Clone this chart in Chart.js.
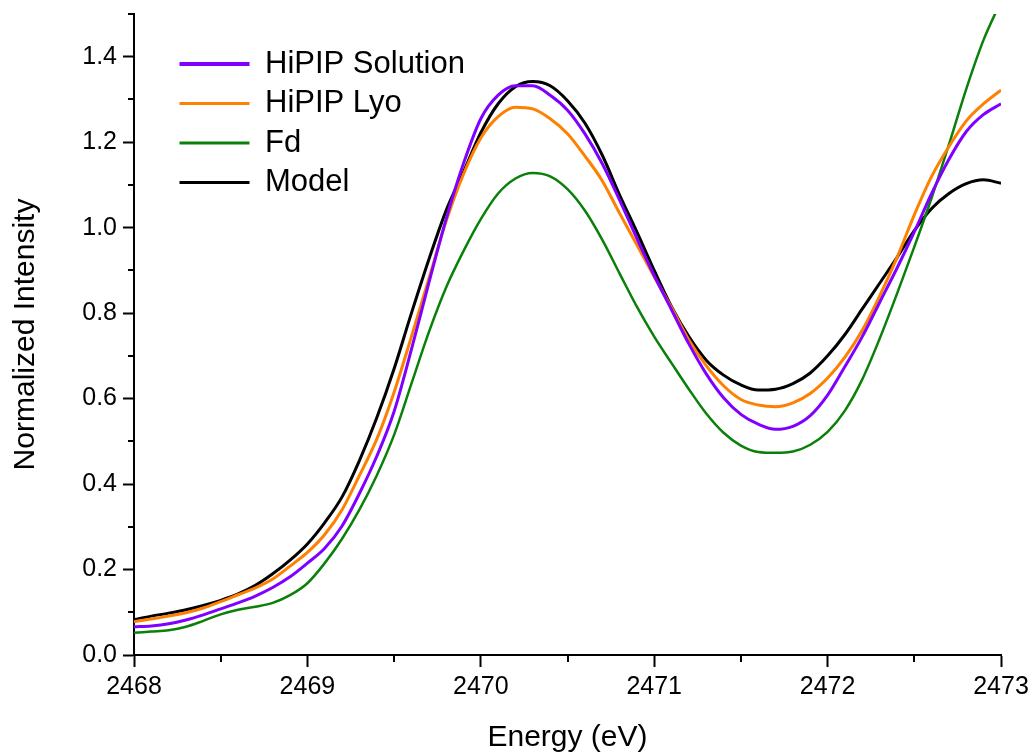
<!DOCTYPE html>
<html>
<head>
<meta charset="utf-8">
<title>S K-edge XAS</title>
<script src="https://cdn.jsdelivr.net/npm/chart.js@4.4.1/dist/chart.umd.min.js"></script>
<style>
  body { margin: 0; background: #fff; }
  canvas { display: block; }
</style>
</head>
<body>
<canvas id="xasChart" width="1032" height="754"></canvas>
<script>
const FONT = '"Liberation Sans", Arial, sans-serif';

// Energy grid (eV)
const energy = [
    2468.0, 2468.1, 2468.2, 2468.3, 2468.4, 2468.5, 2468.6, 2468.7, 2468.8, 2468.9,
    2469.0, 2469.1, 2469.2, 2469.3, 2469.4, 2469.5, 2469.6, 2469.7, 2469.8, 2469.9,
    2470.0, 2470.1, 2470.2, 2470.3, 2470.4, 2470.5, 2470.6, 2470.7, 2470.8, 2470.9,
    2471.0, 2471.1, 2471.2, 2471.3, 2471.4, 2471.5, 2471.6, 2471.7, 2471.8, 2471.9,
    2472.0, 2472.1, 2472.2, 2472.3, 2472.4, 2472.5, 2472.6, 2472.7, 2472.8, 2472.9,
    2473.0
];

const hipipSolution = [
    0.066, 0.068, 0.073, 0.082, 0.094, 0.108, 0.122, 0.138, 0.158, 0.183,
    0.215, 0.250, 0.302, 0.378, 0.465, 0.570, 0.715, 0.870, 1.020, 1.150,
    1.255, 1.310, 1.332, 1.332, 1.310, 1.275, 1.220, 1.150, 1.065, 0.975,
    0.888, 0.808, 0.728, 0.658, 0.602, 0.563, 0.540, 0.528, 0.535, 0.560,
    0.608, 0.675, 0.745, 0.825, 0.905, 0.990, 1.080, 1.160, 1.225, 1.265,
    1.290
];

const hipipLyo = [
    0.078, 0.084, 0.091, 0.099, 0.110, 0.125, 0.141, 0.157, 0.178, 0.208,
    0.240, 0.282, 0.340, 0.420, 0.505, 0.615, 0.745, 0.880, 1.015, 1.125,
    1.210, 1.260, 1.282, 1.278, 1.255, 1.220, 1.168, 1.110, 1.034, 0.960,
    0.885, 0.813, 0.737, 0.677, 0.630, 0.598, 0.585, 0.581, 0.590, 0.612,
    0.648, 0.697, 0.760, 0.840, 0.930, 1.030, 1.120, 1.190, 1.250, 1.290,
    1.322
];

const fd = [
    0.052, 0.055, 0.058, 0.066, 0.080, 0.095, 0.106, 0.113, 0.122, 0.140,
    0.168, 0.215, 0.272, 0.340, 0.420, 0.515, 0.635, 0.755, 0.860, 0.945,
    1.020, 1.080, 1.115, 1.128, 1.120, 1.090, 1.040, 0.972, 0.893, 0.815,
    0.745, 0.683, 0.622, 0.565, 0.520, 0.490, 0.475, 0.473, 0.476, 0.492,
    0.522, 0.572, 0.645, 0.740, 0.845, 0.955, 1.070, 1.195, 1.325, 1.440,
    1.530
];

const model = [
    0.083, 0.091, 0.098, 0.106, 0.116, 0.128, 0.143, 0.163, 0.190, 0.222,
    0.260, 0.310, 0.370, 0.455, 0.555, 0.670, 0.800, 0.925, 1.040, 1.130,
    1.222, 1.290, 1.330, 1.342, 1.332, 1.297, 1.245, 1.170, 1.077, 0.990,
    0.900, 0.815, 0.745, 0.690, 0.655, 0.632, 0.620, 0.622, 0.635, 0.660,
    0.700, 0.750, 0.810, 0.870, 0.930, 0.993, 1.045, 1.080, 1.103, 1.112,
    1.104
];

// minor tick positions
const xMinorTicks = [2468.5, 2469.5, 2470.5, 2471.5, 2472.5];
const yMinorTicks = [0.1, 0.3, 0.5, 0.7, 0.9, 1.1, 1.3, 1.5];

function toPoints(ys) {
    return energy.map((x, i) => ({ x: x, y: ys[i] }));
}

// short outward ticks between the labelled ones
const minorTicks = {
    id: 'minorTicks',
    afterDraw(chart) {
        const ctx = chart.ctx;
        const xs = chart.scales.x;
        const ys = chart.scales.y;
        const area = chart.chartArea;
        ctx.save();
        ctx.strokeStyle = '#000';
        ctx.lineWidth = 2;
        ctx.beginPath();
        xMinorTicks.forEach(v => {
            const px = Math.round(xs.getPixelForValue(v));
            ctx.moveTo(px, area.bottom);
            ctx.lineTo(px, area.bottom + 7);
        });
        yMinorTicks.forEach(v => {
            const py = Math.round(ys.getPixelForValue(v));
            ctx.moveTo(area.left, py);
            ctx.lineTo(area.left - 6, py);
        });
        ctx.stroke();
        ctx.restore();
    }
};

// move the in-plot legend away from the axes
const legendInset = {
    id: 'legendInset',
    afterLayout(chart) {
        chart.legend.left += 37;
        chart.legend.top += 40;
    }
};

new Chart(document.getElementById('xasChart').getContext('2d'), {
    type: 'line',
    data: {
        datasets: [
            { label: 'HiPIP Solution', data: toPoints(hipipSolution), borderColor: '#8000ff', borderWidth: 3 },
            { label: 'HiPIP Lyo', data: toPoints(hipipLyo), borderColor: '#ff8000', borderWidth: 3 },
            { label: 'Fd', data: toPoints(fd), borderColor: '#0a800a', borderWidth: 2.5 },
            { label: 'Model', data: toPoints(model), borderColor: '#000000', borderWidth: 3 }
        ]
    },
    options: {
        responsive: false,
        animation: false,
        devicePixelRatio: 1,
        events: [],
        elements: {
            point: { radius: 0 },
            line: { fill: false, cubicInterpolationMode: 'monotone' }
        },
        layout: { padding: { left: 0, top: 14, right: 31, bottom: 0 } },
        plugins: {
            tooltip: { enabled: false },
            legend: {
                position: 'chartArea',
                align: 'start',
                labels: {
                    usePointStyle: true,
                    pointStyle: 'line',
                    pointStyleWidth: 70,
                    padding: 8.5,
                    color: '#000',
                    font: { family: FONT, size: 31 },
                    generateLabels(chart) {
                        const items = Chart.defaults.plugins.legend.labels.generateLabels(chart);
                        items.forEach(it => {
                            it.pointStyle = 'line';
                            it.lineWidth = it.datasetIndex === 0 ? 4 : 3;
                        });
                        return items;
                    }
                }
            }
        },
        scales: {
            x: {
                type: 'linear',
                min: 2468,
                max: 2473,
                afterFit(scale) {
                    scale.height = 99;
                    scale.paddingLeft = 0;
                    scale.paddingRight = 0;
                },
                ticks: {
                    stepSize: 1,
                    padding: 5,
                    color: '#000',
                    font: { family: FONT, size: 25 },
                    callback: v => String(v)
                },
                grid: {
                    drawOnChartArea: false,
                    tickLength: 12,
                    tickWidth: 2,
                    tickColor: '#000'
                },
                border: { display: true, color: '#000', width: 2 },
                title: {
                    display: true,
                    text: 'Energy (eV)',
                    color: '#000',
                    font: { family: FONT, size: 30, lineHeight: 1.1 },
                    padding: { top: 0, bottom: 0 }
                }
            },
            y: {
                type: 'linear',
                min: 0,
                max: 1.5,
                afterFit(scale) {
                    scale.width = 134;
                    scale.paddingTop = 0;
                    scale.paddingBottom = 0;
                },
                ticks: {
                    stepSize: 0.2,
                    includeBounds: false,
                    padding: 6,
                    color: '#000',
                    font: { family: FONT, size: 25 },
                    callback: v => v.toFixed(1)
                },
                grid: {
                    drawOnChartArea: false,
                    tickLength: 11,
                    tickWidth: 2,
                    tickColor: '#000'
                },
                border: { display: true, color: '#000', width: 2 },
                title: {
                    display: true,
                    text: 'Normalized Intensity',
                    color: '#000',
                    font: { family: FONT, size: 30, lineHeight: 1.2 },
                    padding: { top: 8, bottom: 0 }
                }
            }
        }
    },
    plugins: [minorTicks, legendInset]
});
</script>
</body>
</html>
